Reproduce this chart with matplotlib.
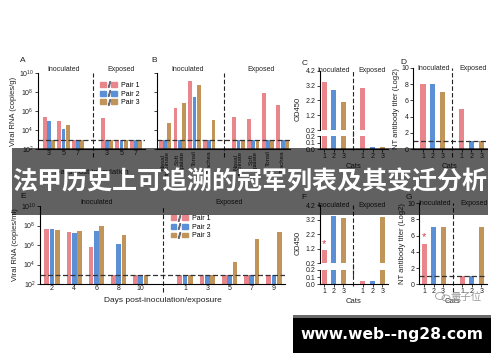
import matplotlib
matplotlib.use('Agg')
import matplotlib.pyplot as plt
import numpy as np
from matplotlib.patches import Rectangle, Patch, Ellipse
from matplotlib.lines import Line2D
from matplotlib.legend_handler import HandlerTuple

plt.rcParams['font.family'] = ['Liberation Sans', 'Noto Sans CJK SC', 'DejaVu Sans']
plt.rcParams['mathtext.default'] = 'regular'
plt.rcParams['axes.linewidth'] = 0.8

# ---- data (log10 copies for viral RNA, 2.9 = limit of detection) ----
pairs = ['Pair 1', 'Pair 2', 'Pair 3']
a_days = ['3', '5', '7']
a_inoc = [[5.4, 4.9, 2.9], [5.0, 4.1, 2.9], [2.9, 4.5, 2.9]]
a_exp = [[5.3, 2.9, 2.9], [2.9, 2.9, 2.9], [2.9, 2.9, 2.9]]

tissues = ['Nasal\nturbinate', 'Soft\npalate', 'Tonsil', 'Trachea']
b_inoc = [[2.9, 6.3, 9.2, 2.9], [2.9, 2.9, 7.5, 2.9], [4.7, 6.8, 8.7, 5.1]]
b_exp = [[5.4, 5.2, 7.9, 6.6], [2.9, 2.9, 2.9, 2.9], [2.9, 2.9, 2.9, 2.9]]

cats = ['1', '2', '3']
c_inoc = [3.45, 2.9, 2.1]
c_exp = [3.0, 0.03, 0.03]
d_inoc = [8, 8, 7]
d_exp = [5, 1, 1]

e_inoc_days = ['2', '4', '6', '8', '10']
e_exp_days = ['1', '3', '5', '7', '9']
e_inoc = [[7.6, 7.3, 5.8, 2.9, 2.9], [7.6, 7.2, 7.4, 6.1, 2.9], [7.5, 7.4, 7.95, 7.0, 2.9]]
e_exp = [[2.9, 2.9, 2.9, 2.9, 2.9], [2.9, 2.9, 2.9, 2.9, 2.9], [2.9, 2.9, 4.3, 6.6, 7.3]]

f_inoc = [1.1, 3.47, 3.33]
f_exp = [0.05, 0.04, 3.4]
g_inoc = [5, 7, 7]
g_exp = [1, 1, 7]

lod_rna = 2.9
lod_titer = 1

title = '法甲历史上可追溯的冠军列表及其变迁分析'
url = 'www.web--ng28.com'

PINK, BLUE, TAN = '#e8868b', '#5b8fd6', '#c1945a'
COLS = [PINK, BLUE, TAN]
INK = '#222222'
FS = 5

W, H = 500, 362
fig = plt.figure(figsize=(5, 3.62), dpi=100)


def box(x0, y0, x1, y1):
    return fig.add_axes([x0 / W, 1 - y1 / H, (x1 - x0) / W, (y1 - y0) / H])


def style(ax):
    ax.spines[['top', 'right']].set_visible(False)
    ax.tick_params(labelsize=FS, length=2, width=0.6, pad=1, colors=INK)
    ax.patch.set_alpha(0)


def divider(ax, x):
    ax.axvline(x, ymin=-0.1, ymax=1.0, color=INK, lw=0.8, dashes=(4, 2), clip_on=False)


def heads(ax, x_in, x_ex, y):
    tr = ax.get_xaxis_transform()
    ax.text(x_in, y, 'Inoculated', transform=tr, ha='center', va='center', fontsize=FS, color=INK)
    ax.text(x_ex, y, 'Exposed', transform=tr, ha='center', va='center', fontsize=FS, color=INK)


def rna_axes(ax, inoc, exp, n, off, width, xlim, labels):
    pos = np.r_[np.arange(n), np.arange(n) + n + 1]
    for k in range(3):
        vals = np.r_[inoc[k], exp[k]]
        ax.bar(pos + (k - 1) * off, 10 ** vals - 1e2, width, bottom=1e2, color=COLS[k])
    ax.set_yscale('log')
    ax.set_ylim(1e2, 1e10)
    ax.set_yticks([1e2, 1e4, 1e6, 1e8, 1e10])
    ax.minorticks_off()
    ax.set_xlim(*xlim)
    ax.set_xticks(pos)
    ax.set_xticklabels(labels)
    ax.axhline(10 ** lod_rna, color='#333333', lw=0.9, dashes=(4, 2))
    divider(ax, n)
    style(ax)
    ax.tick_params(axis='x', length=0)
    return pos


def pair_legend(ax, loc):
    handles = [(Patch(color=c), Line2D([], [], marker='$/$', color='#667', ls='none', markersize=4),
                Patch(color=c)) for c in COLS]
    ax.legend(handles, pairs, handler_map={tuple: HandlerTuple(ndivide=None, pad=0)},
              loc='upper left', bbox_to_anchor=loc, frameon=False, fontsize=FS,
              handlelength=2.4, handleheight=0.7, labelspacing=0.25, borderpad=0, handletextpad=0.6)


# ---------- top row ----------
axA = box(38, 73, 145, 149)
rna_axes(axA, a_inoc, a_exp, 3, 0.29, 0.26, (-0.76, 6.62), a_days * 2)
axA.set_yticklabels(['$10^{2}$', '$10^{4}$', '$10^{6}$', '$10^{8}$', '$10^{10}$'])
axA.set_ylabel('Viral RNA (copies/g)', fontsize=FS + 0.5, labelpad=1, color=INK)
axA.set_xlabel('Days post-inoculation', fontsize=FS + 0.5, labelpad=8, color=INK)
heads(axA, 1, 5, 1.05)
pair_legend(axA, (0.55, 0.93))
axA.text(-0.17, 1.14, 'A', transform=axA.transAxes, fontsize=6, color=INK)

axB = box(157, 73, 290, 149)
rna_axes(axB, b_inoc, b_exp, 4, 0.29, 0.26, (-0.55, 8.5), tissues * 2)
axB.set_yticklabels([])
for t in axB.get_xticklabels():
    t.set_rotation(90)
    t.set_va('top')
    t.set_fontsize(4.5)
    t.set_linespacing(0.9)
heads(axB, 1.5, 6.5, 1.05)
axB.text(-0.04, 1.14, 'B', transform=axB.transAxes, fontsize=6, color=INK)


def od_axes(top, bot, inoc, exp, xlim):
    pos = np.r_[np.arange(3), np.arange(3) + 4]
    vals = np.r_[inoc, exp]
    cols = COLS * 2
    for ax in (top, bot):
        ax.bar(pos, vals, 0.52, color=cols)
        ax.set_xlim(*xlim)
        style(ax)
        divider(ax, 3)
    top.set_ylim(0.2, 4.2)
    top.set_yticks([0.2, 1.2, 2.2, 3.2, 4.2])
    top.spines['bottom'].set_visible(False)
    top.set_xticks([])
    top.axvline(3, ymin=-0.2, ymax=0, color=INK, lw=0.8, dashes=(4, 2), clip_on=False)
    bot.set_ylim(0, 0.2)
    bot.set_yticks([0.0, 0.1, 0.2])
    bot.set_xticks(pos)
    bot.set_xticklabels(cats * 2)
    bot.set_xlabel('Cats', fontsize=FS + 0.5, labelpad=2, color=INK)
    top.set_ylabel('OD450', fontsize=FS + 0.5, labelpad=2, color=INK)
    top.yaxis.set_label_coords(-0.27, 0.35)
    heads(top, 1, 5, 1.0)
    return pos


def titer_axes(ax, inoc, exp, xlim):
    pos = np.r_[np.arange(3), np.arange(3) + 4]
    ax.bar(pos, np.r_[inoc, exp], 0.52, color=COLS * 2)
    ax.set_xlim(*xlim)
    ax.set_ylim(0, 10)
    ax.set_yticks(range(0, 11, 2))
    ax.set_xticks(pos)
    ax.set_xticklabels(cats * 2)
    ax.axhline(lod_titer, color='#333333', lw=0.9, dashes=(4, 2))
    style(ax)
    divider(ax, 3)
    ax.set_xlabel('Cats', fontsize=FS + 0.5, labelpad=2, color=INK)
    ax.set_ylabel('NT antibody titer (Log2)', fontsize=FS + 0.5, labelpad=1, color=INK)
    heads(ax, 1.1, 5.2, 1.0)
    return pos


axC1 = box(320, 70.7, 388, 130)
axC2 = box(320, 136, 388, 149)
od_axes(axC1, axC2, c_inoc, c_exp, (-0.42, 6.6))
axC1.text(-0.27, 1.1, 'C', transform=axC1.transAxes, fontsize=6, color=INK)

axD = box(413, 68, 487, 149)
titer_axes(axD, d_inoc, d_exp, (-1.03, 6.6))
axD.text(-0.17, 1.05, 'D', transform=axD.transAxes, fontsize=6, color=INK)

# ---------- bottom row ----------
axE = box(40, 206, 285, 284)
rna_axes(axE, e_inoc, e_exp, 5, 0.24, 0.21, (-0.54, 10.5), e_inoc_days + e_exp_days)
axE.set_yticklabels(['$10^{2}$', '$10^{4}$', '$10^{6}$', '$10^{8}$', '$10^{10}$'])
axE.set_ylabel('Viral RNA (copies/ml)', fontsize=FS + 0.5, labelpad=1, color=INK)
axE.set_xlabel('Days post-inoculation/exposure', fontsize=FS + 1, labelpad=3, color=INK)
heads(axE, 2, 8, 1.05)
pair_legend(axE, (0.52, 0.93))
axE.text(-0.08, 1.1, 'E', transform=axE.transAxes, fontsize=6, color=INK)

axF1 = box(320, 205, 388, 263.3)
axF2 = box(320, 270, 388, 284.3)
pos = od_axes(axF1, axF2, f_inoc, f_exp, (-0.42, 6.6))
axF1.text(pos[0], f_inoc[0] + 0.45, '*', ha='center', va='center', color='#d9404a', fontsize=8)
axF1.text(-0.27, 1.1, 'F', transform=axF1.transAxes, fontsize=6, color=INK)

axG = box(419, 203, 487, 284.3)
pos = titer_axes(axG, g_inoc, g_exp, (-0.53, 6.6))
axG.text(pos[0], g_inoc[0] + 0.8, '*', ha='center', va='center', color='#d9404a', fontsize=8)
axG.text(-0.2, 1.05, 'G', transform=axG.transAxes, fontsize=6, color=INK)

# ---------- overlay: title band, watermark, url box ----------
ov = fig.add_axes([0, 0, 1, 1], zorder=10)
ov.set_xlim(0, W)
ov.set_ylim(H, 0)
ov.axis('off')
ov.patch.set_alpha(0)
ov.add_patch(Rectangle((12, 148), 476, 67, color='black', alpha=0.62, lw=0))
ov.text(250, 182, title, ha='center', va='center', color='white', fontsize=18,
        fontweight='bold', family=['Noto Sans CJK SC', 'DejaVu Sans'])

ov.add_patch(Ellipse((440, 296), 9, 7, fill=False, ec='#999999', lw=0.6))
ov.add_patch(Ellipse((446, 298), 8, 6, fill=False, ec='#999999', lw=0.6))
ov.text(466, 297, '量子位', ha='center', va='center', color='#9a9a9a', fontsize=7.5,
        family=['Noto Sans CJK SC', 'DejaVu Sans'])

ov.add_patch(Rectangle((293, 315), 198, 2.5, color='#6a6a6a', lw=0))
ov.add_patch(Rectangle((293, 317.5), 198, 35.5, color='black', lw=0))
ov.text(392, 335, url, ha='center', va='center', color='white', fontsize=11.2,
        fontweight='bold', family='DejaVu Sans')

fig.savefig('out.png', dpi=100)
